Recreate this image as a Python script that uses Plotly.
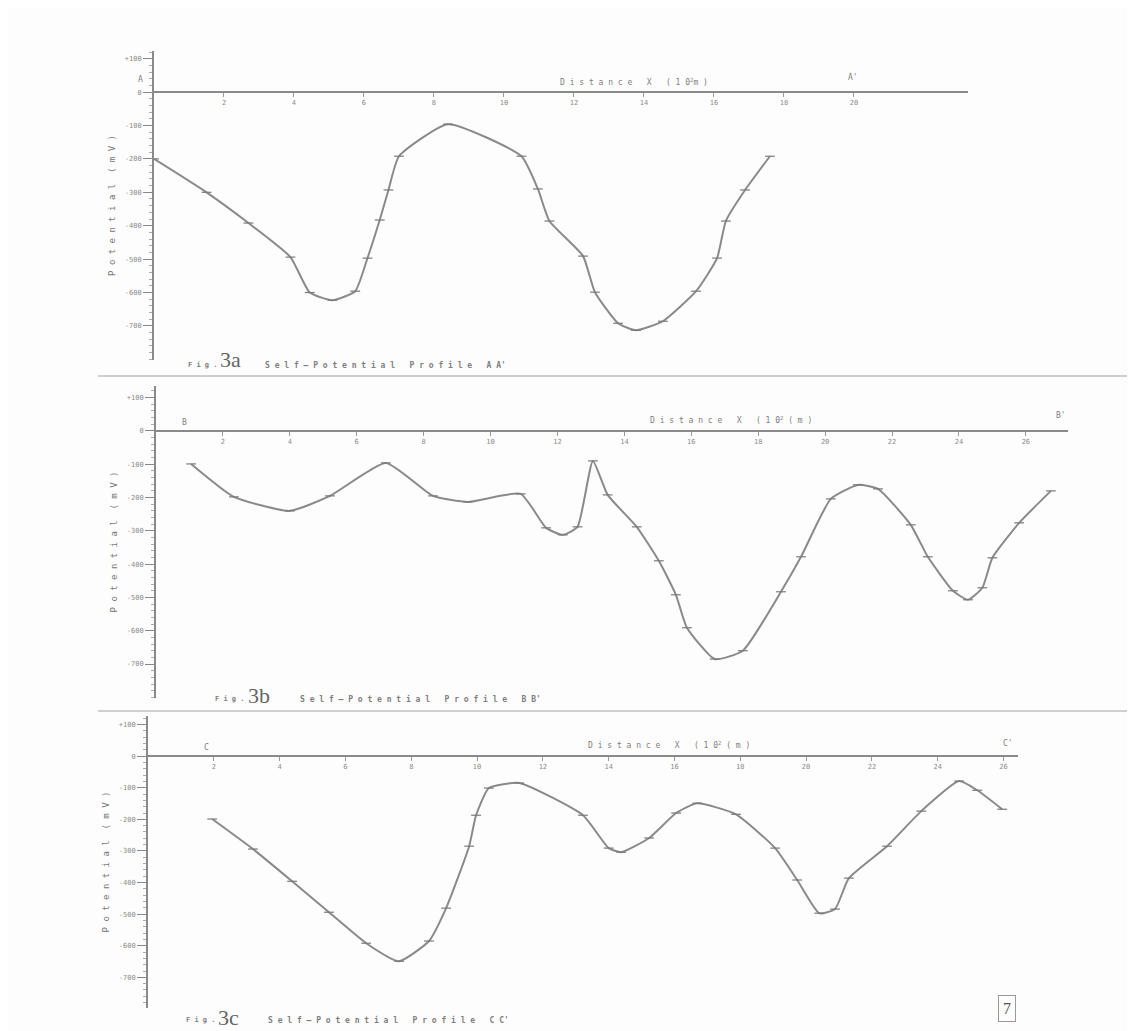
import plotly.graph_objects as go

W, H = 1135, 1031

# ---------------- data (Distance in 10^2 m, Potential in mV) ----------------
xa = [0.0, 1.5, 2.7, 3.9, 4.45, 5.1, 5.75, 6.1, 6.45, 6.7, 7.0, 8.4, 10.5, 10.97, 11.3,
      12.26, 12.6, 13.26, 13.77, 14.54, 15.49, 16.09, 16.34, 16.89, 17.6]
ya = [-200, -300, -392, -494, -600, -623, -596, -497, -383, -293, -192, -96, -192, -290, -386,
      -491, -599, -692, -713, -686, -596, -497, -386, -293, -192]

xb = [1.05, 2.33, 4.0, 5.2, 6.87, 8.28, 9.32, 10.9, 11.66, 12.16, 12.6, 13.06, 13.5, 14.37,
      15.03, 15.54, 15.87, 16.7, 17.54, 18.68, 19.28, 20.17, 20.98, 21.58, 22.56, 23.07,
      23.82, 24.27, 24.7, 25.0, 25.8, 26.75]
yb = [-99, -198, -240, -195, -96, -195, -213, -189, -291, -312, -288, -90, -192, -288,
      -390, -492, -591, -685, -660, -483, -378, -204, -162, -174, -282, -378,
      -480, -507, -471, -381, -276, -180]

xc = [1.95, 3.19, 4.38, 5.5, 6.63, 7.63, 8.54, 9.06, 9.76, 9.97, 10.36, 11.28, 13.22, 14.0,
      14.38, 15.23, 16.05, 16.69, 17.87, 19.06, 19.73, 20.4, 20.88, 21.3, 22.46, 23.5,
      24.65, 25.2, 25.96]
yc = [-199, -294, -396, -494, -592, -649, -585, -481, -285, -187, -101, -85, -187, -291,
      -304, -259, -180, -149, -184, -291, -392, -497, -484, -386, -285, -174,
      -79, -108, -168]

xticks_a = [2, 4, 6, 8, 10, 12, 14, 16, 18, 20]
xticks_bc = [2, 4, 6, 8, 10, 12, 14, 16, 18, 20, 22, 24, 26]
yticks = [100, 0, -100, -200, -300, -400, -500, -600, -700]
ytick_text = ["+100", "0", "-100", "-200", "-300", "-400", "-500", "-600", "-700"]

# ---------------- layout geometry (pixels) ----------------
panels = [
    dict(x0=146, x1=960, xmax=23.26, yt=43, yb=352, y0=84, rmin=-802, rmax=123, xt=xticks_a),
    dict(x0=148, x1=1060, xmax=27.26, yt=378, yb=690, y0=423, rmin=-802, rmax=135, xt=xticks_bc),
    dict(x0=140, x1=1010, xmax=26.44, yt=708, yb=1000, y0=748, rmin=-797, rmax=127, xt=xticks_bc),
]
datasets = [(xa, ya), (xb, yb), (xc, yc)]

INK = "#7d7d7d"
FONT = "DejaVu Sans Mono"

fig = go.Figure()
layout = dict(
    width=W, height=H, margin=dict(l=0, r=0, t=0, b=0),
    paper_bgcolor="#fdfdfd", plot_bgcolor="rgba(0,0,0,0)",
    showlegend=False, font=dict(family=FONT, color=INK, size=8),
)

for i, (p, (xs, ys)) in enumerate(zip(panels, datasets), start=1):
    xn = "x" if i == 1 else f"x{i}"
    yn = "y" if i == 1 else f"y{i}"
    fig.add_trace(go.Scatter(
        x=xs, y=ys, xaxis=xn, yaxis=yn, mode="lines+markers",
        line=dict(color="#8a8a8a", width=2, shape="spline", smoothing=0.5),
        marker=dict(symbol="line-ew", size=7, line=dict(color="#7a7a7a", width=1.2)),
        hoverinfo="skip",
    ))
    xkey = "xaxis" if i == 1 else f"xaxis{i}"
    ykey = "yaxis" if i == 1 else f"yaxis{i}"
    layout[xkey] = dict(
        domain=[p["x0"] / W, p["x1"] / W], range=[0, p["xmax"]],
        anchor="free", position=1 - p["y0"] / H,
        showline=True, linecolor="#8a8a8a", linewidth=1.5,
        showgrid=False, zeroline=False,
        tickvals=p["xt"], ticks="outside", ticklen=4, tickcolor="#999",
        tickfont=dict(size=7, color="#8a8a8a", family=FONT),
    )
    layout[ykey] = dict(
        domain=[1 - p["yb"] / H, 1 - p["yt"] / H], range=[p["rmin"], p["rmax"]],
        anchor=xn, showline=True, linecolor="#8a8a8a", linewidth=2,
        showgrid=False, zeroline=False,
        tickvals=yticks, ticktext=ytick_text, ticks="outside", ticklen=9, tickcolor="#888",
        tickfont=dict(size=7, color="#8a8a8a", family=FONT),
        minor=dict(dtick=20, ticks="outside", ticklen=3, tickcolor="#aaa"),
        title=dict(text="P o t e n t i a l  ( m V )", standoff=8,
                   font=dict(size=9, color="#777", family=FONT)),
    )

fig.update_layout(**layout)

def txt(x, y, s, size=9, bold=False, color=INK, family=FONT):
    fig.add_annotation(x=x / W, y=1 - y / H, xref="paper", yref="paper", text=(f"<b>{s}</b>" if bold else s),
                       showarrow=False, xanchor="left", yanchor="middle",
                       font=dict(size=size, color=color, family=family))

# end labels and axis labels
txt(128, 72, "A", 8); txt(838, 70, "A'", 8)
txt(550, 74, "D i s t a n c e   X   ( 1 0<sup>2</sup>m )", 8)
txt(172, 414, "B", 8); txt(1046, 407, "B'", 8)
txt(640, 412, "D i s t a n c e   X   ( 1 0<sup>2</sup> ( m )", 8)
txt(194, 739, "C", 8); txt(993, 735, "C'", 8)
txt(578, 737, "D i s t a n c e   X   ( 1 0<sup>2</sup> ( m )", 8)

# captions
txt(178, 357, "F i g .", 7, bold=True)
txt(210, 352, "3a", 22, color="#666", family="Liberation Serif")
txt(255, 357, "S e l f — P o t e n t i a l   P r o f i l e   A A'", 8, bold=True)
txt(205, 691, "F i g .", 7, bold=True)
txt(238, 687, "3b", 22, color="#666", family="Liberation Serif")
txt(290, 691, "S e l f — P o t e n t i a l   P r o f i l e   B B'", 8, bold=True)
txt(176, 1012, "F i g .", 7, bold=True)
txt(208, 1009, "3c", 22, color="#666", family="Liberation Serif")
txt(258, 1012, "S e l f — P o t e n t i a l   P r o f i l e   C C'", 8, bold=True)

# page number box
fig.add_annotation(x=1008 / W, y=1 - 1014 / H, xref="paper", yref="paper", text="7",
                   showarrow=False, font=dict(size=16, color="#555", family="Liberation Serif"),
                   bordercolor="#999", borderwidth=1, borderpad=4, bgcolor="rgba(0,0,0,0)")

# scanned page edges between panels
for yy in (368, 703):
    fig.add_shape(type="line", xref="paper", yref="paper", x0=90 / W, x1=1, y0=1 - yy / H, y1=1 - yy / H,
                  line=dict(color="#cfcfcf", width=2))

fig.write_html("out.html")
